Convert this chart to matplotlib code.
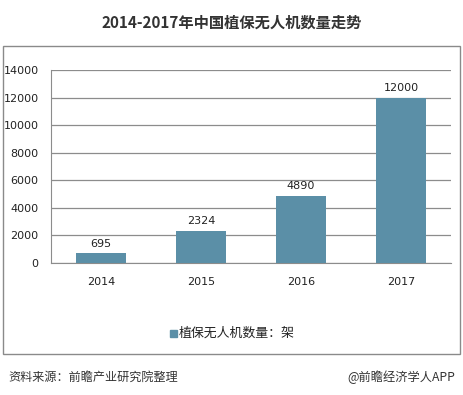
import matplotlib
matplotlib.use('Agg')
import matplotlib.pyplot as plt
import matplotlib.patches as mpatches

plt.rcParams['font.family'] = ['Noto Sans CJK SC', 'DejaVu Sans']

# 数据
years = ['2014', '2015', '2016', '2017']
counts = [695, 2324, 4890, 12000]
yticks = [0, 2000, 4000, 6000, 8000, 10000, 12000, 14000]

BAR = '#5b8fa7'
GRID = '#8c8c8c'

fig = plt.figure(figsize=(4.64, 3.95), dpi=100)

# 外框
fig.patches.append(mpatches.Rectangle((3 / 464, 1 - 354 / 395), 457 / 464, 308 / 395,
                                      transform=fig.transFigure, fill=False,
                                      edgecolor='#8a8a8a', linewidth=1.0))

ax = fig.add_axes([51 / 464, 1 - 263 / 395, 400 / 464, 193 / 395])
x = range(len(years))
bars = ax.bar(x, counts, width=0.5, color=BAR, zorder=3)
for xi, v in zip(x, counts):
    ax.text(xi, v + 350, str(v), ha='center', va='bottom', fontsize=8,
            family='DejaVu Sans', color='#222222')

ax.set_xlim(-0.5, 3.5)
ax.set_ylim(0, 14000)
ax.set_yticks(yticks)
ax.set_xticks(list(x))
ax.set_xticklabels(years, family='DejaVu Sans', fontsize=8)
ax.set_yticklabels([str(t) for t in yticks], family='DejaVu Sans', fontsize=8)
ax.tick_params(length=0, pad=10, axis='x', colors='#222222')
ax.tick_params(length=0, pad=9, axis='y', colors='#222222')
ax.grid(axis='y', color=GRID, linewidth=0.9, zorder=0)
for s in ['top', 'right']:
    ax.spines[s].set_visible(False)
ax.spines['left'].set_color(GRID)
ax.spines['bottom'].set_color(GRID)

fig.text(0.5, 1 - 23 / 395, '2014-2017年中国植保无人机数量走势', ha='center', va='center',
         fontsize=11, fontweight='bold', color='#333333')

# 图例
fig.patches.append(mpatches.Rectangle((170 / 464, 1 - 337 / 395), 7 / 464, 7 / 395,
                                      transform=fig.transFigure, color=BAR))
fig.text(179 / 464, 1 - 333 / 395, '植保无人机数量：架', ha='left', va='center',
         fontsize=9.3, color='#222222')

fig.text(8 / 464, 1 - 377 / 395, '资料来源：前瞻产业研究院整理', ha='left', va='center',
         fontsize=8.7, color='#333333', style='italic')
fig.text(455 / 464, 1 - 377 / 395, '@前瞻经济学人APP', ha='right', va='center',
         fontsize=8.8, color='#333333')

fig.savefig('out.png', dpi=100)
